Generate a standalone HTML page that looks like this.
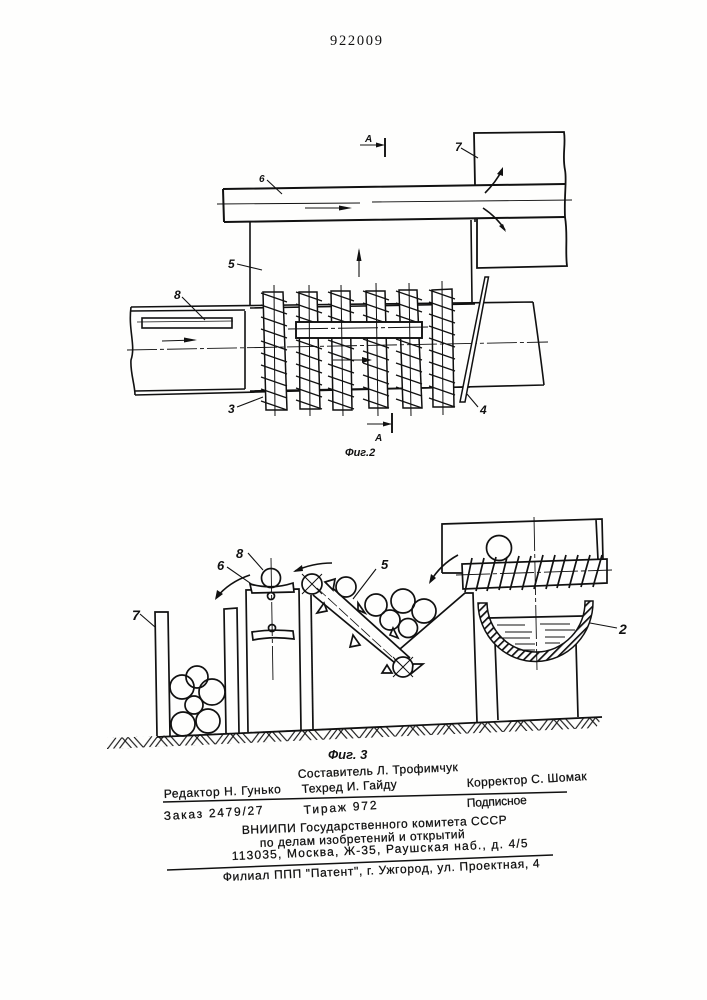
<!DOCTYPE html>
<html><head><meta charset="utf-8"><style>
html,body{margin:0;padding:0;background:#fefefd}
svg{display:block;filter:blur(.35px)}
text{font-family:"Liberation Sans","DejaVu Sans",sans-serif;fill:#111}
.l{font-size:12px;font-style:italic;font-weight:bold}
.f{font-size:12px;stroke:#111;stroke-width:.25px}
</style></head><body>
<svg width="707" height="1000" viewBox="0 0 707 1000" xmlns="http://www.w3.org/2000/svg">
<defs>
<pattern id="hb" width="36" height="11" patternUnits="userSpaceOnUse" patternTransform="translate(107,738) rotate(-2.4)">
<path d="M0 11L9 0M6 11L15 0M12 11L21 0M36 11L27 0M30 11L21 0M24 11L15 0" stroke="#111" stroke-width="1.1" fill="none"/>
</pattern>
<pattern id="bh" width="5.500" height="5.500" patternUnits="userSpaceOnUse" patternTransform="rotate(45)">
<rect width="5.500" height="5.500" fill="#fff"/><rect width="1.700" height="5.500" fill="#111"/>
</pattern>
<g id="h" stroke="#111" stroke-width="1.300">
<path d="M-13 0L13 9M-13 12L13 21M-13 24L13 33M-13 36L13 45M-13 48L13 57M-13 60L13 69M-13 72L13 81M-13 84L13 93M-13 96L13 105M-13 108L13 117"/>
</g>
</defs>
<rect width="707" height="1000" fill="#fefefd"/>
<text x="330" y="45" style="font-family:'Liberation Serif',serif;font-size:14.5px" textLength="52" lengthAdjust="spacing">922009</text>

<!-- FIG 2 -->
<g fill="none" stroke="#111" stroke-width="1.600">
<path d="M475 185L474 133L564 132C566 145 562 155 565 170C567 180 564 195 565 217C568 235 565 250 567 266L477 268L477 218" stroke-width="1.800"/>
<path d="M223 189L565 184M224 222L565 217M223 189L224 222" stroke-width="2"/>
<path d="M217 204L360 203" stroke-width=".9"/><path d="M372 202L572 200" stroke-width=".9"/>
<path d="M250 222V305M471 220L472 302M475 218V222"/>
<path d="M131 307L533 302M131 311L245 310M533 302C537 330 541 360 544 385M135 395L544 385M135 391L245 389"/>
<path d="M131 307C128 330 136 345 131 360C130 372 135 385 135 395"/>
<path d="M245 311V389M250 308L475 304M250 391L470 387"/>
<rect x="142" y="318" width="90" height="10"/>
<path d="M137 322L233 321" stroke-width=".8"/>
<path d="M485 193C492 186 498 178 502 170"/><path d="M483 208C492 214 500 222 505 230"/>
<path d="M458 555C445 562 436 572 430 582"/>
<path d="M250 575C235 580 224 588 216 598"/>
<path d="M332 563C318 563 306 566 295 571"/>
</g>
<g fill="#fff" stroke="#111" stroke-width="1.500">
<path d="M263 292H283L287 410H266Z"/><path d="M299 292H317L320 409H300Z"/><path d="M331 291H350L352 410H333Z"/>
<path d="M366 291H385L388 408H369Z"/><path d="M399 290H417L422 408H403Z"/><path d="M432 290L452 289L454 407H433Z"/>
</g>
<use href="#h" x="274" y="293"/><use href="#h" x="309" y="292"/><use href="#h" x="341" y="292"/>
<use href="#h" x="376" y="291"/><use href="#h" x="409" y="291"/><use href="#h" x="442" y="290"/>
<rect x="296" y="322" width="126" height="16" fill="#fff" stroke="#111" stroke-width="1.900"/>
<g stroke="#111" stroke-width="1" fill="none">
<path d="M274 285L275 416M309 285L310 416M341 285L343 416M376 283L378 416M409 283L411 416M442 281L443 415"/>
<path d="M288 329L430 327" stroke-dasharray="40 3 4 3"/>
<path d="M127 350L548 342" stroke-width=".9" stroke-dasharray="30 3 4 3"/>
</g>
<g stroke="#111" stroke-width="1.100" fill="none">
<path d="M305 208H350M162 341L195 340M359 277V250M333 360H370M360 145H383M367 424H391"/>
<path d="M385 138V157M392 413V433" stroke-width="1.900"/>
<path d="M267 180L282 194M237 264L262 270M182 297L205 320M478 158L461 148M237 407L263 397M478 407L467 394M140 614L155 627M248 553L263 570M227 567L263 592M376 569L353 599M590 623L617 628"/>
</g>
<g fill="#111">
<path d="M352 208L339 205.5V210.5ZM197 340L184 337.5V342.5ZM359 248L356.5 261H361.5ZM372 360L362 357V363ZM385 145L376 142.5V147.5ZM392 424L383 421.500V426.500ZM503 167L497 174L503 176ZM506 232L499 226L503 224ZM429 584L431 574L436 578ZM215 600L217 590L223 594ZM293 572L302 565L303 571Z"/>
</g>
<path d="M485 277L488.500 277L465 402L460 402Z" fill="#fff" stroke="#111" stroke-width="1.500"/>
<text class="l" x="365" y="142" style="font-size:10px">А</text>
<text class="l" x="375" y="441" style="font-size:10px">А</text>
<text class="l" x="455" y="151">7</text>
<text class="l" x="259" y="182" style="font-size:10px">6</text>
<text class="l" x="228" y="268">5</text>
<text class="l" x="174" y="299">8</text>
<text class="l" x="228" y="413">3</text>
<text class="l" x="480" y="414">4</text>
<text class="l" x="345" y="456" style="font-size:11px">Фиг.2</text>

<!-- FIG 3 -->
<polygon points="107,738 602,717 596,728 107,749" fill="url(#hb)"/>
<g fill="none" stroke="#111" stroke-width="1.700">
<path d="M157 737L602 717" stroke-width="1.800"/>
<path d="M157 736L155 612H168L170 736"/>
<path d="M226 733L224 609L237 608L239 733"/>
<path d="M248 732L246 590L299 589L301 730"/>
<path d="M311 595L313 729"/>
<path d="M250 584Q272 590 293 583L294 592L252 593Z" fill="#fefefd"/>
<path d="M252 632Q272 629 293 631L294 639Q272 636 253 640Z"/>
<circle cx="271" cy="578" r="9.500"/><circle cx="271" cy="596" r="3.500"/><circle cx="272" cy="628" r="3.500"/>
<circle cx="182" cy="687" r="12"/><circle cx="197" cy="677" r="11"/><circle cx="212" cy="692" r="13"/>
<circle cx="194" cy="705" r="9"/><circle cx="183" cy="724" r="12"/><circle cx="208" cy="721" r="12"/>
<path d="M327 583L410 658M313 595L395 663"/>
<circle cx="312" cy="584" r="10"/><circle cx="403" cy="667" r="10"/>
<path d="M302 574L322 594M322 574L302 594M393 657L413 677M413 657L393 677" stroke-width="1"/>
<path d="M317 613L327 611L324 603ZM325 582L335 579L333 590ZM350 647L360 645L353 635ZM382 673L392 673L387 665ZM412 673L423 664L413 664ZM358 610L365 613L358 603ZM390 635L398 638L393 628Z" fill="#fff"/>
<circle cx="346" cy="587" r="10"/><circle cx="376" cy="605" r="11"/><circle cx="403" cy="601" r="12"/>
<circle cx="424" cy="611" r="12"/><circle cx="390" cy="620" r="10"/><circle cx="408" cy="628" r="9.500"/>
<path d="M400 649L465 593H473L477 722"/>
<path d="M495 642L498 720M576 643L578 717"/>
<path d="M442 573L442 524L602 519L603 560M596 519L598 560M442 573H462"/>
<circle cx="499" cy="548" r="12.500"/>
</g>
<path d="M478 603H487A48 49 0 0 0 585 601H593A57 59 0 0 1 478 603Z" fill="url(#bh)" stroke="#111" stroke-width="1.500"/>
<g stroke="#111" fill="none">
<path d="M462 564L607 559L607 583L463 589Z" fill="#fff" stroke-width="1.700"/>
<path d="M472 558L465 592M484 558L476 591M496 557L487 591M507 557L499 590M519 556L510 590M531 556L522 590M543 555L534 589M555 555L546 589M566 555L557 588M578 555L569 588M590 555L581 587M602 555L593 587" stroke-width="1.700"/>
<path d="M456 575L612 570M271 558L273 682M534 517L537 670" stroke-width=".9" stroke-dasharray="34 3 4 3"/>
<path d="M488 618L583 616" stroke-width="1.700"/>
<path d="M497 625H525M540 624H570M505 632H532M545 630H575M498 638H530M545 637H565M515 644H535M545 643H560M518 650H535" stroke-width=".9"/>
<path d="M317 588L403 667" stroke-width=".8" stroke-dasharray="12 3"/>
</g>
<text class="l" x="236" y="558" style="font-size:13px">8</text>
<text class="l" x="217" y="570" style="font-size:13px">6</text>
<text class="l" x="132" y="620" style="font-size:14px">7</text>
<text class="l" x="381" y="569" style="font-size:13px">5</text>
<text class="l" x="619" y="634" style="font-size:14px">2</text>
<text class="l" x="328" y="759" style="font-size:13px">Фиг. 3</text>

<!-- FOOTER -->
<g>
<text class="f" transform="translate(298,778) rotate(-2.5)" textLength="160" lengthAdjust="spacing">Составитель Л. Трофимчук</text>
<text class="f" transform="translate(164,798) rotate(-2.4)" textLength="117" lengthAdjust="spacing">Редактор Н. Гунько</text>
<text class="f" transform="translate(302,793) rotate(-3)" textLength="95" lengthAdjust="spacing">Техред И. Гайду</text>
<text class="f" transform="translate(467,787) rotate(-3.3)" textLength="120" lengthAdjust="spacing">Корректор С. Шомак</text>
<text class="f" transform="translate(164,820) rotate(-3.4)" textLength="99" lengthAdjust="spacing">Заказ 2479/27</text>
<text class="f" transform="translate(304,814) rotate(-3.9)" textLength="73" lengthAdjust="spacing">Тираж 972</text>
<text class="f" transform="translate(467,807) rotate(-2.9)" textLength="60" lengthAdjust="spacing">Подписное</text>
<text class="f" transform="translate(242,834) rotate(-2.2)" textLength="265" lengthAdjust="spacing">ВНИИПИ Государственного комитета СССР</text>
<text class="f" transform="translate(260,847) rotate(-2.5)" textLength="205" lengthAdjust="spacing">по делам изобретений и открытий</text>
<text class="f" transform="translate(232,860) rotate(-2.5)" textLength="296" lengthAdjust="spacing">113035, Москва, Ж-35, Раушская наб., д. 4/5</text>
<text class="f" transform="translate(223,881) rotate(-2.5)" textLength="317" lengthAdjust="spacing">Филиал ППП "Патент", г. Ужгород, ул. Проектная, 4</text>
<path d="M163 802L567 792M167 870L553 855" stroke="#111" stroke-width="1.500" fill="none"/>
</g>
</svg>
</body></html>
